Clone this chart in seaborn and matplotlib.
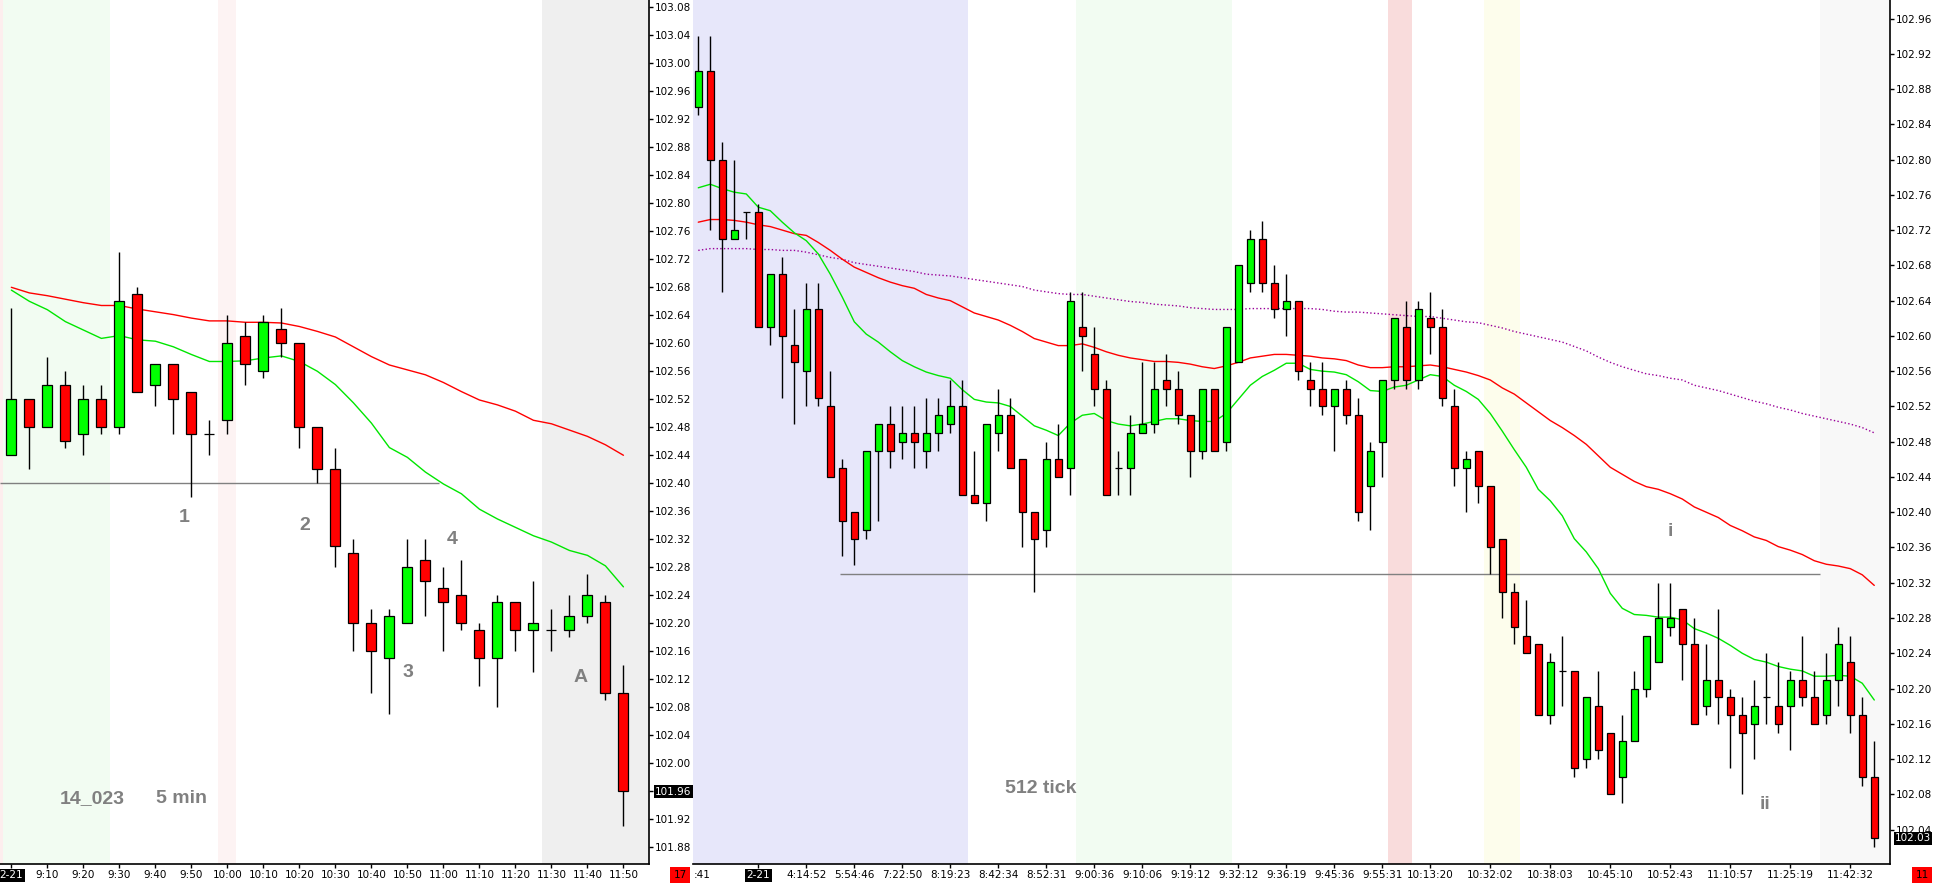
import matplotlib
matplotlib.use("Agg")
import matplotlib.pyplot as plt
import matplotlib.transforms as mtransforms
import numpy as np
import seaborn as sns

# ---- 5 min chart (left panel) ----
left_open = [102.44, 102.52, 102.48, 102.54, 102.47, 102.52, 102.48, 102.67, 102.54, 102.57,
             102.53, 102.47, 102.49, 102.61, 102.56, 102.62, 102.60, 102.48, 102.42, 102.30,
             102.20, 102.15, 102.20, 102.29, 102.25, 102.24, 102.19, 102.15, 102.23, 102.19,
             102.19, 102.19, 102.21, 102.23, 102.10]
left_high = [102.65, 102.52, 102.58, 102.56, 102.54, 102.54, 102.73, 102.68, 102.57, 102.57,
             102.53, 102.49, 102.64, 102.63, 102.64, 102.65, 102.60, 102.48, 102.45, 102.32,
             102.22, 102.22, 102.32, 102.32, 102.28, 102.29, 102.20, 102.24, 102.23, 102.26,
             102.22, 102.24, 102.27, 102.24, 102.14]
left_low = [102.44, 102.42, 102.48, 102.45, 102.44, 102.47, 102.47, 102.53, 102.51, 102.47,
            102.38, 102.44, 102.47, 102.54, 102.55, 102.58, 102.45, 102.40, 102.28, 102.16,
            102.10, 102.07, 102.20, 102.21, 102.16, 102.19, 102.11, 102.08, 102.16, 102.13,
            102.16, 102.18, 102.20, 102.09, 101.91]
left_close = [102.52, 102.48, 102.54, 102.46, 102.52, 102.48, 102.66, 102.53, 102.57, 102.52,
              102.47, 102.47, 102.60, 102.57, 102.63, 102.60, 102.48, 102.42, 102.31, 102.20,
              102.16, 102.21, 102.28, 102.26, 102.23, 102.20, 102.15, 102.23, 102.19, 102.20,
              102.19, 102.21, 102.24, 102.10, 101.96]
left_ma_fast = [102.675, 102.659, 102.647, 102.630, 102.618, 102.606, 102.610, 102.604, 102.602, 102.594,
                102.583, 102.573, 102.573, 102.574, 102.578, 102.581, 102.573, 102.559, 102.540, 102.514,
                102.485, 102.450, 102.436, 102.415, 102.398, 102.384, 102.362, 102.348, 102.336, 102.324,
                102.315, 102.303, 102.296, 102.281, 102.251]
left_ma_slow = [102.679, 102.671, 102.667, 102.662, 102.657, 102.653, 102.653, 102.648, 102.644, 102.640,
                102.635, 102.631, 102.631, 102.629, 102.629, 102.628, 102.623, 102.616, 102.608, 102.594,
                102.580, 102.568, 102.561, 102.554, 102.543, 102.530, 102.518, 102.511, 102.502, 102.489,
                102.484, 102.475, 102.466, 102.454, 102.439]
left_times = ['2-21', '9:10', '9:20', '9:30', '9:40', '9:50', '10:00', '10:10', '10:20', '10:30',
              '10:40', '10:50', '11:00', '11:10', '11:20', '11:30', '11:40', '11:50']
left_level = 102.40

# ---- 512 tick chart (right panel) ----
right_open = [102.86, 102.90, 102.80, 102.71, 102.74, 102.74, 102.61, 102.67, 102.59, 102.56,
              102.63, 102.52, 102.45, 102.40, 102.38, 102.47, 102.50, 102.48, 102.49, 102.47,
              102.49, 102.50, 102.52, 102.42, 102.41, 102.49, 102.51, 102.46, 102.40, 102.38,
              102.46, 102.45, 102.61, 102.58, 102.54, 102.45, 102.45, 102.49, 102.50, 102.55,
              102.54, 102.51, 102.47, 102.54, 102.48, 102.57, 102.66, 102.71, 102.66, 102.63,
              102.64, 102.55, 102.54, 102.52, 102.54, 102.51, 102.43, 102.48, 102.55, 102.61,
              102.55, 102.62, 102.61, 102.52, 102.45, 102.47, 102.43, 102.37, 102.31, 102.26,
              102.25, 102.17, 102.22, 102.22, 102.12, 102.18, 102.15, 102.10, 102.14, 102.20,
              102.23, 102.27, 102.29, 102.25, 102.18, 102.21, 102.19, 102.17, 102.16, 102.19,
              102.18, 102.18, 102.21, 102.19, 102.17, 102.21, 102.23, 102.17, 102.10]
right_high = [102.94, 102.94, 102.82, 102.80, 102.74, 102.75, 102.67, 102.69, 102.63, 102.66,
              102.66, 102.56, 102.46, 102.40, 102.47, 102.50, 102.52, 102.52, 102.52, 102.53,
              102.53, 102.55, 102.55, 102.47, 102.50, 102.54, 102.53, 102.46, 102.40, 102.48,
              102.50, 102.65, 102.65, 102.61, 102.55, 102.47, 102.51, 102.57, 102.57, 102.58,
              102.56, 102.51, 102.54, 102.54, 102.61, 102.68, 102.72, 102.73, 102.68, 102.67,
              102.64, 102.57, 102.57, 102.54, 102.55, 102.53, 102.48, 102.55, 102.62, 102.64,
              102.64, 102.65, 102.63, 102.54, 102.47, 102.47, 102.43, 102.37, 102.32, 102.30,
              102.25, 102.24, 102.26, 102.22, 102.19, 102.22, 102.15, 102.17, 102.22, 102.26,
              102.32, 102.32, 102.29, 102.28, 102.25, 102.29, 102.20, 102.19, 102.21, 102.24,
              102.23, 102.22, 102.26, 102.22, 102.24, 102.27, 102.26, 102.19, 102.14]
right_low = [102.85, 102.72, 102.65, 102.71, 102.71, 102.61, 102.59, 102.53, 102.50, 102.52,
             102.52, 102.44, 102.35, 102.34, 102.37, 102.39, 102.45, 102.46, 102.45, 102.45,
             102.47, 102.49, 102.42, 102.41, 102.39, 102.47, 102.45, 102.36, 102.31, 102.36,
             102.44, 102.42, 102.56, 102.52, 102.42, 102.42, 102.42, 102.49, 102.49, 102.52,
             102.50, 102.44, 102.46, 102.47, 102.47, 102.57, 102.65, 102.65, 102.62, 102.60,
             102.55, 102.52, 102.51, 102.47, 102.50, 102.39, 102.38, 102.44, 102.54, 102.54,
             102.54, 102.58, 102.52, 102.43, 102.40, 102.41, 102.33, 102.28, 102.25, 102.24,
             102.17, 102.16, 102.18, 102.10, 102.11, 102.12, 102.08, 102.07, 102.14, 102.19,
             102.23, 102.26, 102.21, 102.16, 102.17, 102.16, 102.11, 102.08, 102.12, 102.16,
             102.15, 102.13, 102.18, 102.16, 102.16, 102.18, 102.15, 102.09, 102.02]
right_close = [102.90, 102.80, 102.71, 102.72, 102.74, 102.61, 102.67, 102.60, 102.57, 102.63,
               102.53, 102.44, 102.39, 102.37, 102.47, 102.50, 102.47, 102.49, 102.48, 102.49,
               102.51, 102.52, 102.42, 102.41, 102.50, 102.51, 102.45, 102.40, 102.37, 102.46,
               102.44, 102.64, 102.60, 102.54, 102.42, 102.45, 102.49, 102.50, 102.54, 102.54,
               102.51, 102.47, 102.54, 102.47, 102.61, 102.68, 102.71, 102.66, 102.63, 102.64,
               102.56, 102.54, 102.52, 102.54, 102.51, 102.40, 102.47, 102.55, 102.62, 102.55,
               102.63, 102.61, 102.53, 102.45, 102.46, 102.43, 102.36, 102.31, 102.27, 102.24,
               102.17, 102.23, 102.22, 102.11, 102.19, 102.13, 102.08, 102.14, 102.20, 102.26,
               102.28, 102.28, 102.25, 102.16, 102.21, 102.19, 102.17, 102.15, 102.18, 102.19,
               102.16, 102.21, 102.19, 102.16, 102.21, 102.25, 102.17, 102.10, 102.03]
right_ma_fast = [102.768, 102.772, 102.767, 102.763, 102.761, 102.746, 102.742, 102.729, 102.717, 102.708,
                 102.693, 102.670, 102.644, 102.616, 102.602, 102.593, 102.582, 102.572, 102.565, 102.559,
                 102.555, 102.552, 102.539, 102.528, 102.525, 102.524, 102.520, 102.509, 102.498, 102.493,
                 102.487, 102.501, 102.510, 102.512, 102.504, 102.500, 102.498, 102.500, 102.503, 102.506,
                 102.506, 102.504, 102.503, 102.503, 102.512, 102.528, 102.544, 102.554, 102.561, 102.569,
                 102.569, 102.562, 102.560, 102.559, 102.556, 102.548, 102.538, 102.537, 102.542, 102.544,
                 102.550, 102.556, 102.554, 102.544, 102.537, 102.528, 102.512, 102.492, 102.471, 102.451,
                 102.426, 102.413, 102.396, 102.370, 102.355, 102.336, 102.308, 102.291, 102.284, 102.283,
                 102.281, 102.281, 102.278, 102.268, 102.263, 102.257, 102.249, 102.240, 102.233, 102.230,
                 102.225, 102.222, 102.220, 102.214, 102.214, 102.215, 102.214, 102.206, 102.187]
right_ma_mid = [102.729, 102.732, 102.732, 102.731, 102.729, 102.726, 102.724, 102.720, 102.716, 102.714,
                102.706, 102.697, 102.687, 102.678, 102.672, 102.666, 102.661, 102.657, 102.654, 102.647,
                102.643, 102.640, 102.633, 102.626, 102.622, 102.618, 102.612, 102.605, 102.597, 102.593,
                102.589, 102.589, 102.591, 102.587, 102.582, 102.578, 102.575, 102.573, 102.571, 102.571,
                102.570, 102.568, 102.565, 102.563, 102.566, 102.570, 102.575, 102.577, 102.579, 102.579,
                102.578, 102.577, 102.575, 102.574, 102.572, 102.567, 102.564, 102.564, 102.565, 102.565,
                102.566, 102.567, 102.565, 102.562, 102.559, 102.555, 102.550, 102.541, 102.534, 102.524,
                102.514, 102.504, 102.496, 102.487, 102.477, 102.464, 102.451, 102.443, 102.435, 102.429,
                102.426, 102.421, 102.415, 102.406, 102.400, 102.394, 102.385, 102.379, 102.372, 102.368,
                102.361, 102.357, 102.352, 102.345, 102.341, 102.339, 102.336, 102.329, 102.317]
right_ma_slow = [102.697, 102.699, 102.699, 102.699, 102.699, 102.698, 102.698, 102.697, 102.697, 102.695,
                 102.692, 102.689, 102.687, 102.683, 102.681, 102.679, 102.677, 102.675, 102.673, 102.670,
                 102.669, 102.668, 102.666, 102.664, 102.662, 102.660, 102.658, 102.656, 102.652, 102.650,
                 102.648, 102.647, 102.647, 102.645, 102.643, 102.641, 102.639, 102.638, 102.636, 102.635,
                 102.634, 102.632, 102.631, 102.630, 102.630, 102.630, 102.631, 102.631, 102.631, 102.631,
                 102.631, 102.631, 102.630, 102.628, 102.627, 102.627, 102.626, 102.625, 102.624, 102.623,
                 102.622, 102.622, 102.620, 102.618, 102.616, 102.615, 102.612, 102.609, 102.605, 102.602,
                 102.599, 102.596, 102.593, 102.588, 102.583, 102.576, 102.570, 102.565, 102.561, 102.557,
                 102.555, 102.552, 102.550, 102.544, 102.541, 102.538, 102.534, 102.530, 102.526, 102.523,
                 102.519, 102.516, 102.512, 102.509, 102.506, 102.503, 102.500, 102.496, 102.490]
right_times = ['2-21', '4:14:52', '5:54:46', '7:22:50', '8:19:23', '8:42:34', '8:52:31', '9:00:36',
               '9:10:06', '9:19:12', '9:32:12', '9:36:19', '9:45:36', '9:55:31', '10:13:20', '10:32:02',
               '10:38:03', '10:45:10', '10:52:43', '11:10:57', '11:25:19', '11:42:32']
right_time_bars = [5, 9, 13, 17, 21, 25, 29, 33, 37, 41, 45, 49, 53, 57, 61, 66, 71, 76, 81, 86, 91, 96]
right_level = 102.33

sns.set_style('white')
plt.rcParams['font.family'] = ['DejaVu Sans']
NOTE_FONT = ['Liberation Sans Narrow', 'Liberation Sans', 'DejaVu Sans']
GREY = '#808080'

W, H = 1938, 888
fig = plt.figure(figsize=(W / 100, H / 100), dpi=100)
ax1 = fig.add_axes([0, 24 / H, 649 / W, 864 / H])
ax2 = fig.add_axes([693 / W, 24 / H, (1890 - 693) / W, 864 / H])


def candles(ax, o, h, l, c):
    o, h, l, c = map(np.asarray, (o, h, l, c))
    x = np.arange(len(o))
    ax.vlines(x, l, h, color='black', lw=1.0, zorder=3)
    cols = np.where(c >= o, '#00ff00', '#ff0000')
    ax.bar(x, np.abs(c - o), bottom=np.minimum(o, c), width=0.56, color=cols,
           edgecolor='black', linewidth=0.9, zorder=4)


def style_axis(ax, ylo, yhi, ticks):
    ax.set_ylim(ylo, yhi)
    ax.set_facecolor('white')
    for s in ['top', 'left']:
        ax.spines[s].set_visible(False)
    for s in ['right', 'bottom']:
        ax.spines[s].set_color('black')
        ax.spines[s].set_linewidth(1.2)
    ax.yaxis.tick_right()
    ax.set_yticks(ticks, labels=[f'{t:.2f}' for t in ticks])
    ax.tick_params(axis='y', direction='out', length=3, width=1, pad=1.5,
                   labelsize=7.5, colors='black', right=True, left=False)
    ax.tick_params(axis='x', direction='out', length=3, width=1, pad=1.5,
                   labelsize=7.5, colors='black', bottom=True)
    ax.set_xlabel('')
    ax.set_ylabel('')


def tag_date(ax):
    lbl = ax.get_xticklabels()[0]
    lbl.set_color('white')
    lbl.set_bbox(dict(boxstyle='square,pad=0.15', fc='black', ec='none'))


def note(ax, x, y, txt):
    ax.text(x, y, txt, ha='center', va='center', color=GREY, fontsize=14,
            fontweight='bold', family=NOTE_FONT, fontstretch='condensed', zorder=5)


# left panel
xl = np.arange(len(left_close))
ax1.set_xlim(-0.63, 35.42)
for a, b, col in [(-0.63, -0.47, '#fdeeee'), (-0.47, 5.5, '#f2fcf2'),
                  (11.5, 12.5, '#fdf3f3'), (29.5, 35.42, '#efefef')]:
    ax1.axvspan(a, b, color=col, lw=0, zorder=0)
ax1.hlines(left_level, -0.63, 23.75, color=GREY, lw=1.0, zorder=2)
sns.lineplot(x=xl, y=left_ma_slow, ax=ax1, color='#ff0000', lw=1.0, zorder=2)
sns.lineplot(x=xl, y=left_ma_fast, ax=ax1, color='#00e600', lw=1.0, zorder=2)
candles(ax1, left_open, left_high, left_low, left_close)
left_ticks = np.round(np.arange(101.88, 103.081, 0.04), 2)
style_axis(ax1, 101.855, 103.0895, left_ticks)
ax1.set_xticks(xl[::2], labels=left_times)
tag_date(ax1)
for lbl, t in zip(ax1.get_yticklabels(), left_ticks):
    if abs(t - left_close[-1]) < 1e-6:
        lbl.set_color('white')
        lbl.set_bbox(dict(boxstyle='square,pad=0.12', fc='black', ec='none'))

for txt, bx, py in [('1', 9.6, 102.35), ('2', 16.3, 102.339), ('3', 22.05, 102.128),
                    ('4', 24.5, 102.319), ('A', 31.6, 102.121),
                    ('14_023', 4.5, 101.948), ('5 min', 9.47, 101.948)]:
    note(ax1, bx, py, txt)

# right panel
xr = np.arange(len(right_close))
ax2.set_xlim(-0.44, 99.31)
for a, b, col in [(-0.44, 22.5, '#e7e7fa'), (31.5, 44.5, '#f2fcf2'),
                  (57.5, 59.5, '#f9dcdc'), (65.5, 68.5, '#fdfdec'), (93.5, 99.31, '#f8f8f8')]:
    ax2.axvspan(a, b, color=col, lw=0, zorder=0)
ax2.hlines(right_level, 11.8, 93.5, color=GREY, lw=1.0, zorder=2)
sns.lineplot(x=xr, y=right_ma_slow, ax=ax2, color='#990099', lw=1.0, ls=':', zorder=2)
sns.lineplot(x=xr, y=right_ma_mid, ax=ax2, color='#ff0000', lw=1.0, zorder=2)
sns.lineplot(x=xr, y=right_ma_fast, ax=ax2, color='#00e600', lw=1.0, zorder=2)
candles(ax2, right_open, right_high, right_low, right_close)
right_ticks = np.round(np.arange(102.04, 102.961, 0.04), 2)
style_axis(ax2, 102.001, 102.981, right_ticks)
ax2.set_xticks(right_time_bars, labels=right_times)
tag_date(ax2)

trans = mtransforms.blended_transform_factory(ax2.transAxes, ax2.transData)
ax2.text(1.004, right_close[-1], f'{right_close[-1]:.2f}', transform=trans, ha='left',
         va='center', fontsize=7.5, color='white', zorder=6,
         bbox=dict(boxstyle='square,pad=0.12', fc='black', ec='none'))

for txt, bx, py in [('512 tick', 28.5, 102.087), ('i', 81.0, 102.378), ('ii', 88.9, 102.069)]:
    note(ax2, bx, py, txt)

# bottom strip: clipped time label and bar counters
fig.text(694 / W, 13 / H, ':41', ha='left', va='center', fontsize=7.5, color='black')
for xpos, txt in [(680, '17'), (1922, '11')]:
    fig.text(xpos / W, 13 / H, txt, ha='center', va='center', fontsize=7.5, color='black',
             bbox=dict(boxstyle='square,pad=0.3', fc='#ff0000', ec='none'))

fig.savefig('out.png', dpi=100, facecolor='white')
